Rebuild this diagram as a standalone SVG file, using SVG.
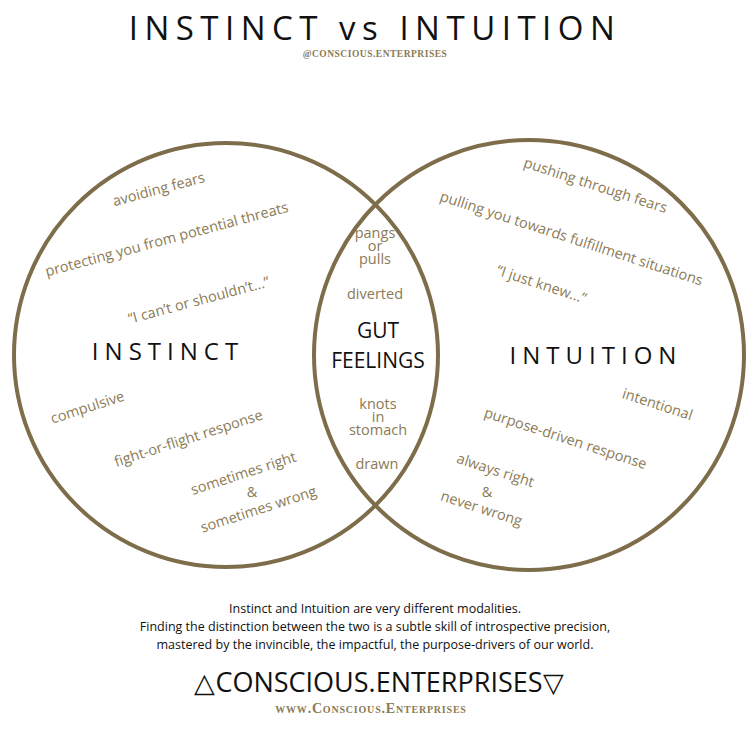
<svg xmlns="http://www.w3.org/2000/svg" width="750" height="750" viewBox="0 0 750 750">
<style>
.c{fill:none;stroke:#7d6d4a;stroke-width:4}
.t{font-family:"Open Sans","Liberation Sans",sans-serif;font-size:14.5px;fill:#8b7a55;text-anchor:middle}
.big{font-family:"Open Sans","Liberation Sans",sans-serif;fill:#111;text-anchor:middle}
.gold{fill:#8b7a55;font-family:"Liberation Serif",serif;font-weight:bold;text-anchor:middle}
</style>
<rect width="750" height="750" fill="#fff"/>
<text x="375" y="40" class="big" font-size="33" letter-spacing="6.5">INSTINCT vs INTUITION</text>
<text x="375" y="57" class="gold" font-size="9.5" letter-spacing="0.5">@CONSCIOUS.ENTERPRISES</text>
<g id="circles">
<circle id="instinct" class="c" cx="226" cy="355" r="212"/>
<circle id="intuition" class="c" cx="529" cy="355" r="215"/>
</g>
<g id="left">
<text x="160" y="194" class="t" transform="rotate(-15 160 194)">avoiding fears</text>
<text x="168" y="244" class="t" transform="rotate(-15 168 244)">protecting you from potential threats</text>
<text x="200" y="305" class="t" transform="rotate(-15 200 305)">“I can’t or shouldn’t...”</text>
<text x="168" y="360" class="big" font-size="24" letter-spacing="6">INSTINCT</text>
<text x="89" y="412" class="t" transform="rotate(-18 89 412)">compulsive</text>
<text x="190" y="443" class="t" transform="rotate(-18 190 443)">fight-or-flight response</text>
<text x="245" y="478" class="t" transform="rotate(-18 245 478)">sometimes right</text>
<text x="252" y="497" class="t">&amp;</text>
<text x="260" y="514" class="t" transform="rotate(-18 260 514)">sometimes wrong</text>
</g>
<g id="middle">
<text x="375" y="238" class="t">pangs</text>
<text x="375" y="251" class="t">or</text>
<text x="375" y="264" class="t">pulls</text>
<text x="375" y="299" class="t">diverted</text>
<text x="378" y="338" class="big" font-size="21">GUT</text>
<text x="378" y="368" class="big" font-size="21">FEELINGS</text>
<text x="378" y="409" class="t">knots</text>
<text x="378" y="422" class="t">in</text>
<text x="378" y="435" class="t">stomach</text>
<text x="377" y="469" class="t">drawn</text>
</g>
<g id="right">
<text x="594" y="190" class="t" transform="rotate(18 594 190)">pushing through fears</text>
<text x="570" y="243" class="t" transform="rotate(18 570 243)">pulling you towards fulfillment situations</text>
<text x="540" y="289" class="t" transform="rotate(18 540 289)">“I just knew...”</text>
<text x="596" y="364" class="big" font-size="24" letter-spacing="6">INTUITION</text>
<text x="656" y="409" class="t" transform="rotate(18 656 409)">intentional</text>
<text x="564" y="443" class="t" transform="rotate(18 564 443)">purpose-driven response</text>
<text x="494" y="475" class="t" transform="rotate(18 494 475)">always right</text>
<text x="487" y="497" class="t">&amp;</text>
<text x="480" y="513" class="t" transform="rotate(18 480 513)">never wrong</text>
</g>
<g id="footer" font-family="'Open Sans','Liberation Sans',sans-serif" font-size="12.5" text-anchor="middle" fill="#111">
<text x="375" y="613">Instinct and Intuition are very different modalities.</text>
<text x="375" y="631">Finding the distinction between the two is a subtle skill of introspective precision,</text>
<text x="375" y="649">mastered by the invincible, the impactful, the purpose-drivers of our world.</text>
<text x="379" y="692" font-size="27">△CONSCIOUS.ENTERPRISES▽</text>
</g>
<text x="371" y="713" class="gold" font-size="14" letter-spacing="0.8" font-variant="small-caps">www.Conscious.Enterprises</text>
</svg>
